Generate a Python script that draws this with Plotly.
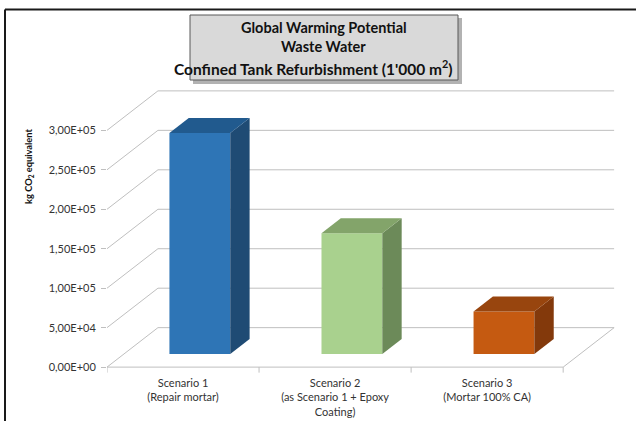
import plotly.graph_objects as go

# ---------------- data ----------------
categories = [
    "Scenario 1<br>(Repair mortar)",
    "Scenario 2<br>(as Scenario 1 + Epoxy<br>Coating)",
    "Scenario 3<br>(Mortar 100% CA)",
]
values = [2.80e5, 1.53e5, 5.4e4]
tick_values = [0, 5e4, 1e5, 1.5e5, 2e5, 2.5e5, 3e5]
tick_labels = ["0,00E+00", "5,00E+04", "1,00E+05", "1,50E+05",
               "2,00E+05", "2,50E+05", "3,00E+05"]
title_lines = ["Global Warming Potential", "Waste Water",
               "Confined Tank Refurbishment (1'000 m<sup>2</sup>)"]
y_title = "kg CO<sub>2</sub> equivalent"

front_colors = ["#2E75B6", "#A9D18E", "#C55A11"]
top_colors = ["#215A8E", "#83A46A", "#98450E"]
side_colors = ["#1F4B74", "#6C8A59", "#83390B"]

# ---------------- geometry / style ----------------
W, H = 636, 421
ML, MR, MT, MB = 107, 12, 83, 46
XR = [0, 3.4]
YR = [-1e4, 3.6e5]
DX, DY = 0.335, 5.0e4      # depth offset of back wall (x in category units, y in value units)
F1, F2 = 0.33, 0.71        # bar front / back depth fraction
BW = 0.40                  # bar width (category units)
GRID = "#BFBFBF"
FONT = "Lato"
TXT = "#333333"

PW, PH = W - ML - MR, H - MT - MB


def px(p):
    return (p - ML) / PW


def py(p):
    return 1 - (p - MT) / PH


shapes = []
# back wall grid and left wall diagonals
for v in tick_values:
    shapes.append(dict(type="line", xref="x", yref="y", x0=DX, y0=v + DY, x1=3 + DX, y1=v + DY,
                       line=dict(color=GRID, width=1), layer="below"))
    shapes.append(dict(type="line", xref="x", yref="y", x0=0, y0=v, x1=DX, y1=v + DY,
                       line=dict(color=GRID, width=1), layer="below"))
# floor
shapes.append(dict(type="line", xref="x", yref="y", x0=0, y0=0, x1=3, y1=0,
                   line=dict(color=GRID, width=1), layer="below"))
shapes.append(dict(type="line", xref="x", yref="y", x0=3, y0=0, x1=3 + DX, y1=DY,
                   line=dict(color=GRID, width=1), layer="below"))
for i in range(len(categories) + 1):
    shapes.append(dict(type="line", xref="x", yref="y", x0=i, y0=0, x1=i, y1=-7000,
                       line=dict(color=GRID, width=1), layer="below"))

# bars (front faces as bar trace, top/side as polygons)
base = F1 * DY
d = F2 - F1
xcs = [i + 0.5 + F1 * DX for i in range(len(values))]
for xc, v, tc, sc in zip(xcs, values, top_colors, side_colors):
    xl, xr = xc - BW / 2, xc + BW / 2
    top = base + v
    side = (f"M {xr},{base} L {xr + d * DX},{base + d * DY} "
            f"L {xr + d * DX},{top + d * DY} L {xr},{top} Z")
    topf = (f"M {xl},{top} L {xl + d * DX},{top + d * DY} "
            f"L {xr + d * DX},{top + d * DY} L {xr},{top} Z")
    shapes.append(dict(type="path", xref="x", yref="y", path=side, fillcolor=sc,
                       line=dict(width=0), layer="above"))
    shapes.append(dict(type="path", xref="x", yref="y", path=topf, fillcolor=tc,
                       line=dict(width=0), layer="above"))

# outer border (top + left)
shapes.append(dict(type="line", xref="paper", yref="paper", x0=px(5), y0=py(9.5), x1=px(640), y1=py(9.5),
                   line=dict(color="#1A1A1A", width=2)))
shapes.append(dict(type="line", xref="paper", yref="paper", x0=px(5), y0=py(9.5), x1=px(5), y1=py(430),
                   line=dict(color="#1A1A1A", width=2)))

# title box with shadow
shapes.append(dict(type="rect", xref="paper", yref="paper", x0=px(193), y0=py(18), x1=px(462), y1=py(84),
                   fillcolor="rgba(0,0,0,0.30)", line=dict(width=0)))
shapes.append(dict(type="rect", xref="paper", yref="paper", x0=px(190), y0=py(15), x1=px(458), y1=py(80),
                   fillcolor="#D9D9D9", line=dict(color="#595959", width=1)))

annotations = []
for txt, cx, cy, fs in zip(title_lines, [324, 323, 313], [27, 47, 67], [14.5, 14.5, 15.5]):
    annotations.append(dict(text=f"<b>{txt}</b>", xref="paper", yref="paper", x=px(cx), y=py(cy),
                            xanchor="center", yanchor="middle", showarrow=False,
                            font=dict(family=FONT, size=fs, color="#111111")))
annotations.append(dict(text=f"<b>{y_title}</b>", xref="paper", yref="paper", x=px(29), y=py(166),
                        xanchor="center", yanchor="middle", textangle=-90, showarrow=False,
                        font=dict(family=FONT, size=9.3, color="#111111")))

fig = go.Figure()
fig.add_trace(go.Bar(x=xcs, y=values, base=[base] * len(values), width=BW,
                     marker=dict(color=front_colors, line=dict(width=0)),
                     hoverinfo="skip"))

fig.update_layout(
    width=W, height=H,
    margin=dict(l=ML, r=MR, t=MT, b=MB, autoexpand=False),
    paper_bgcolor="white", plot_bgcolor="white",
    showlegend=False,
    shapes=shapes, annotations=annotations,
    font=dict(family=FONT, size=11, color=TXT),
    xaxis=dict(range=XR, tickvals=[i + 0.5 for i in range(len(categories))], ticktext=categories,
               showgrid=False, zeroline=False, showline=False, ticks="", automargin=False,
               tickfont=dict(family=FONT, size=11, color=TXT)),
    yaxis=dict(range=YR, tickvals=tick_values, ticktext=tick_labels,
               showgrid=False, zeroline=False, showline=False, automargin=False,
               ticks="outside", ticklen=5, tickcolor=GRID, ticklabelstandoff=3,
               tickfont=dict(family=FONT, size=11, color=TXT)),
)

fig.write_html("out.html", config={"displayModeBar": False},
               post_script="document.body.style.margin='0';document.body.style.overflow='hidden';")
